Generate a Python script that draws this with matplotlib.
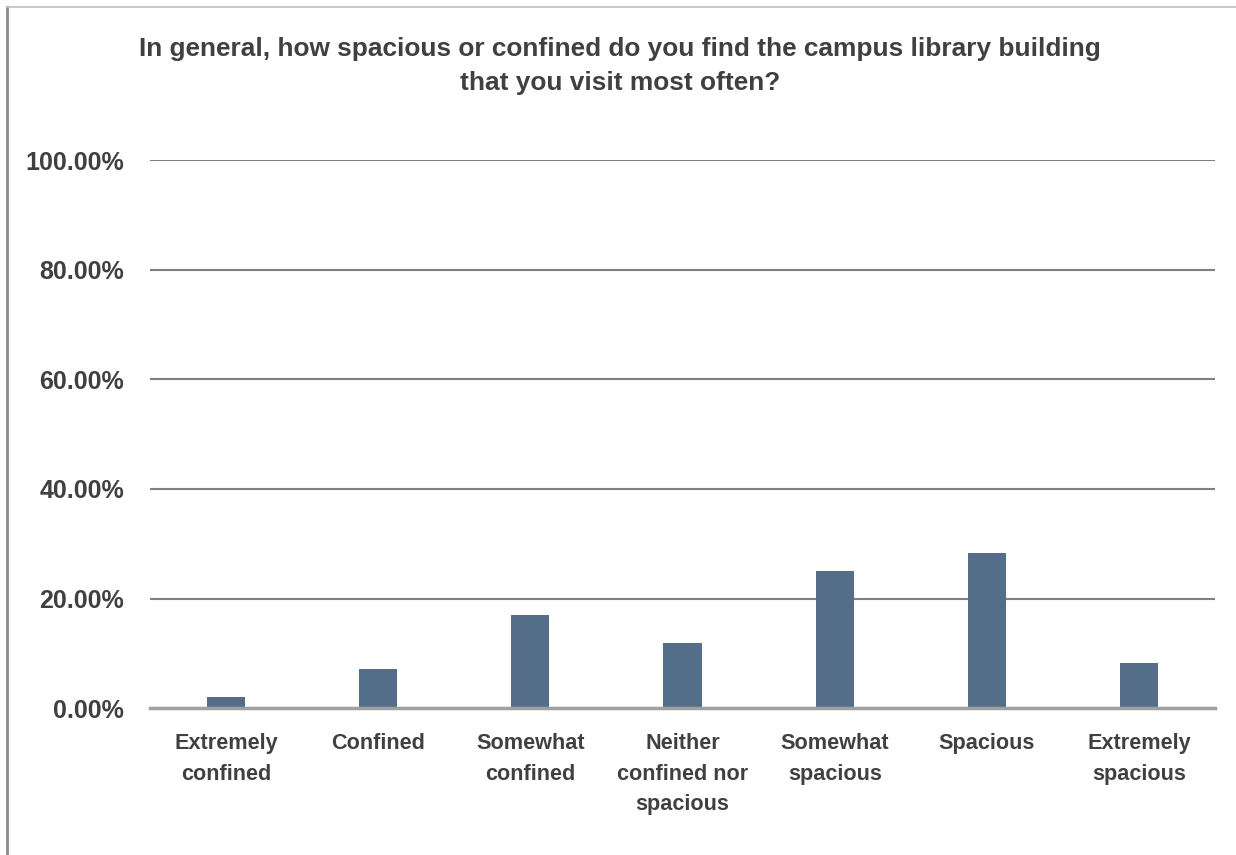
import matplotlib
matplotlib.use("Agg")
import matplotlib.pyplot as plt
from matplotlib.ticker import FuncFormatter
from matplotlib import font_manager

categories = ["Extremely\nconfined", "Confined", "Somewhat\nconfined",
              "Neither\nconfined nor\nspacious", "Somewhat\nspacious",
              "Spacious", "Extremely\nspacious"]
values = [2.1, 7.2, 17.05, 11.9, 25.1, 28.4, 8.3]
yticks = [0, 20, 40, 60, 80, 100]
title = ("In general, how spacious or confined do you find the campus library building\n"
         "that you visit most often?")

names = {f.name for f in font_manager.fontManager.ttflist}
fam = ["Liberation Sans Narrow", "Liberation Sans", "DejaVu Sans"]
fam = [f for f in fam if f in names] + ["DejaVu Sans"]
plt.rcParams['font.family'] = fam

W, H = 1236, 855
fig = plt.figure(figsize=(W / 100, H / 100), dpi=100)
ax = fig.add_axes([150 / W, (H - 708.3) / H, 1065 / W, (708.3 - 160) / H])

txt = "#404040"
x = list(range(len(categories)))
ax.bar(x, values, width=0.25, color="#546E8A", zorder=3)
ax.set_xlim(-0.5, len(categories) - 0.5)
ax.set_ylim(0, 100)
ax.set_yticks(yticks)
ax.yaxis.set_major_formatter(FuncFormatter(lambda v, p: f"{v:.2f}%"))
ax.set_xticks(x)
ax.set_xticklabels(categories, fontsize=15.6, fontweight="bold", color=txt,
                   linespacing=1.58)
ax.tick_params(axis="y", length=0, pad=18.5, labelsize=18, labelcolor=txt)
ax.tick_params(axis="x", length=0, pad=18)
for lab in ax.get_yticklabels():
    lab.set_fontweight("bold")
ax.grid(axis="y", color="#808080", linewidth=1.5, zorder=0)
for s in ["top", "right", "left"]:
    ax.spines[s].set_visible(False)
ax.spines["bottom"].set_color("#A0A0A0")
ax.spines["bottom"].set_linewidth(2.5)
ax.spines["bottom"].set_zorder(4)

fig.text(620 / W, 1 - 66 / H, title, ha="center", va="center", fontsize=18.9,
         fontweight="bold", color=txt, linespacing=1.55)

# outer frame
fig.add_artist(plt.Line2D([7 / W, 7 / W], [0, 1 - 7 / H], transform=fig.transFigure,
                          color="#8C8C8C", linewidth=2))
fig.add_artist(plt.Line2D([7 / W, 1], [1 - 7 / H, 1 - 7 / H], transform=fig.transFigure,
                          color="#BFBFBF", linewidth=1.2))

fig.savefig("out.png", dpi=100, facecolor="white")
